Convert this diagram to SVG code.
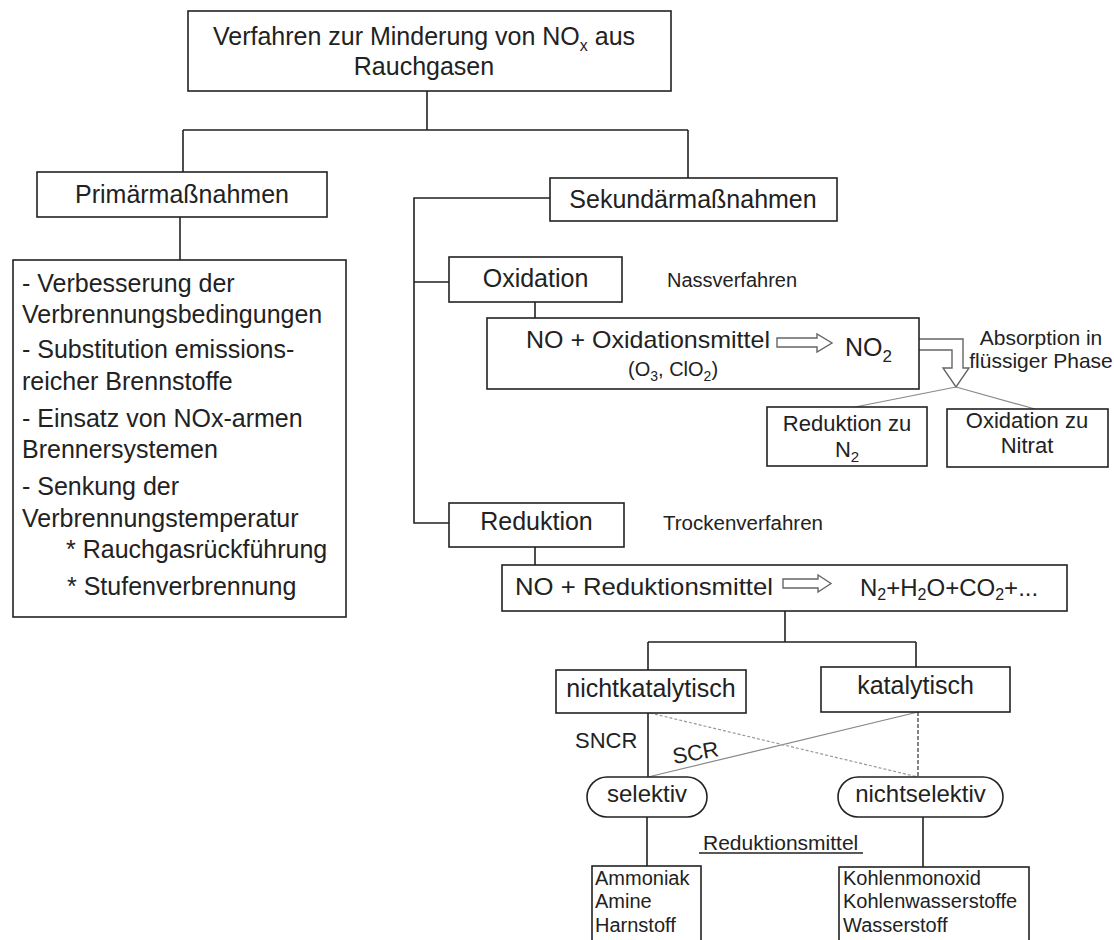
<svg xmlns="http://www.w3.org/2000/svg" width="1114" height="940" viewBox="0 0 1114 940">
<style>
.box{fill:#fff;stroke:#222;stroke-width:1.6}
.ln{fill:none;stroke:#222;stroke-width:1.6}
.gl{fill:none;stroke:#888;stroke-width:1.2}
.gd{fill:none;stroke:#999;stroke-width:1.2;stroke-dasharray:3 2}
.dd{fill:none;stroke:#333;stroke-width:1.2;stroke-dasharray:4 2}
.ha{fill:#fff;stroke:#666;stroke-width:1.4}
text{font-family:"Liberation Sans",Arial,sans-serif;fill:#222}
.t25{font-size:25px}
.t24{font-size:24px}
.t22{font-size:22px}
.t21{font-size:21px}
.t20{font-size:20px}
.m{text-anchor:middle}
</style>
<rect width="1114" height="940" fill="#fff"/>
<g id="connectors">
<path class="ln" d="M427,91 V130 M183,130 H688 M183,130 V172 M688,130 V178"/>
<path class="ln" d="M180,217 V260"/>
<path class="ln" d="M550,198 H414 V523 H449 M414,282 H449"/>
<path class="ln" d="M535,302 V318 M535,547 V565"/>
<path class="ha" d="M919,339 H963 V368 H969 L956,387 L943,368 H952 V350 H919"/>
<path class="gl" d="M956,387 L855,407 M956,387 L1035,409"/>
<path class="ln" d="M785,611 V642 M648,642 H916 M648,642 V670 M916,642 V667"/>
<path class="ln" d="M648,713 V777"/>
<path class="gl" d="M918,712 L648,777"/>
<path class="gd" d="M650,713 L918,777"/>
<path class="dd" d="M918,712 V777"/>
<path class="ln" d="M647,817 V866 M923,817 V867"/>
</g>
<g id="n_title">
<rect class="box" x="188" y="11" width="483" height="80"/>
<text class="t25 m" x="424" y="45">Verfahren zur Minderung von NO<tspan font-size="16" dy="6">x</tspan><tspan dy="-6"> aus</tspan></text>
<text class="t25 m" x="424" y="75">Rauchgasen</text>
</g>
<g id="n_primaer">
<rect class="box" x="37" y="172" width="290" height="45"/>
<text class="t25 m" x="182" y="203">Primärmaßnahmen</text>
</g>
<g id="n_primaer_list">
<rect class="box" x="13" y="260" width="333" height="357"/>
<text class="t25" x="22" y="292">- Verbesserung der</text>
<text class="t25" x="22" y="323">Verbrennungsbedingungen</text>
<text class="t25" x="22" y="358">- Substitution emissions-</text>
<text class="t25" x="22" y="390">reicher Brennstoffe</text>
<text class="t25" x="22" y="427">- Einsatz von NOx-armen</text>
<text class="t25" x="22" y="458">Brennersystemen</text>
<text class="t25" x="22" y="495">- Senkung der</text>
<text class="t25" x="22" y="527">Verbrennungstemperatur</text>
<text class="t25" x="66" y="558">* Rauchgasrückführung</text>
<text class="t25" x="67" y="595">* Stufenverbrennung</text>
</g>
<g id="n_sekundaer">
<rect class="box" x="550" y="178" width="287" height="43"/>
<text class="t25 m" x="693" y="208">Sekundärmaßnahmen</text>
</g>
<g id="n_oxidation">
<rect class="box" x="449" y="257" width="173" height="45"/>
<text class="t25 m" x="535.5" y="287">Oxidation</text>
</g>
<g id="n_nass">
<text class="t20" x="667" y="287">Nassverfahren</text>
</g>
<g id="n_oxreaction">
<rect class="box" x="487" y="318" width="432" height="71"/>
<text class="t24" x="526" y="348" textLength="244" lengthAdjust="spacingAndGlyphs">NO + Oxidationsmittel</text>
<path class="ha" d="M777,338 H817 V334 L832,343 L817,352 V347 H777 Z"/>
<text class="t25" x="845" y="356">NO<tspan font-size="17" dy="6">2</tspan></text>
<text class="t20" x="628" y="376">(O<tspan font-size="14" dy="5">3</tspan><tspan dy="-5">, ClO</tspan><tspan font-size="14" dy="5">2</tspan><tspan dy="-5">)</tspan></text>
</g>
<g id="n_absorption">
<text class="t21 m" x="1041" y="345">Absorption in</text>
<text class="t21 m" x="1041" y="368">flüssiger Phase</text>
</g>
<g id="n_redN2">
<rect class="box" x="767" y="407" width="160" height="59"/>
<text class="t22 m" x="847" y="431">Reduktion zu</text>
<text class="t22 m" x="847" y="457">N<tspan font-size="15" dy="5">2</tspan></text>
</g>
<g id="n_oxNitrat">
<rect class="box" x="947" y="409" width="161" height="58"/>
<text class="t22 m" x="1027" y="428">Oxidation zu</text>
<text class="t22 m" x="1027" y="453">Nitrat</text>
</g>
<g id="n_reduktion">
<rect class="box" x="449" y="503" width="175" height="44"/>
<text class="t25 m" x="536.5" y="530">Reduktion</text>
</g>
<g id="n_trocken">
<text class="t20" x="663" y="530" textLength="160" lengthAdjust="spacingAndGlyphs">Trockenverfahren</text>
</g>
<g id="n_redreaction">
<rect class="box" x="502" y="565" width="565" height="46"/>
<text class="t24" x="515" y="595" textLength="258" lengthAdjust="spacingAndGlyphs">NO + Reduktionsmittel</text>
<path class="ha" d="M783,579 H818 V575 L831,583.5 L818,592 V588 H783 Z"/>
<text class="t24" x="860" y="596">N<tspan font-size="16" dy="4">2</tspan><tspan dy="-4">+H</tspan><tspan font-size="16" dy="4">2</tspan><tspan dy="-4">O+CO</tspan><tspan font-size="16" dy="4">2</tspan><tspan dy="-4">+...</tspan></text>
</g>
<g id="n_nichtkat">
<rect class="box" x="556" y="670" width="190" height="43"/>
<text class="t25 m" x="651" y="697">nichtkatalytisch</text>
</g>
<g id="n_kat">
<rect class="box" x="821" y="667" width="189" height="45"/>
<text class="t25 m" x="915.5" y="694">katalytisch</text>
</g>
<g id="n_sncr">
<text class="t22" x="575" y="748">SNCR</text>
</g>
<g id="n_scr">
<text class="t22" x="674" y="764" transform="rotate(-10 674 764)">SCR</text>
</g>
<g id="n_selektiv">
<rect class="box" x="587" y="777" width="120" height="40" rx="20" ry="20"/>
<text class="t24 m" x="647" y="802">selektiv</text>
</g>
<g id="n_nichtselektiv">
<rect class="box" x="838" y="777" width="165" height="40" rx="20" ry="20"/>
<text class="t24 m" x="920.5" y="802">nichtselektiv</text>
</g>
<g id="n_redmittel">
<text class="t21" x="703" y="850">Reduktionsmittel</text>
<path class="ln" d="M699,853 H863" stroke-width="1.2"/>
</g>
<g id="n_ammoniak">
<rect class="box" x="592" y="866" width="109" height="80"/>
<text class="t20" x="595" y="885">Ammoniak</text>
<text class="t20" x="595" y="908">Amine</text>
<text class="t20" x="595" y="932">Harnstoff</text>
</g>
<g id="n_kohlen">
<rect class="box" x="839" y="867" width="190" height="80"/>
<text class="t20" x="843" y="885">Kohlenmonoxid</text>
<text class="t20" x="843" y="908">Kohlenwasserstoffe</text>
<text class="t20" x="843" y="932">Wasserstoff</text>
</g>
</svg>
